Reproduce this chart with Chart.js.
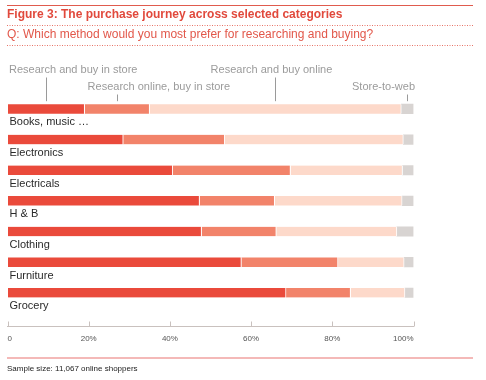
<!DOCTYPE html>
<html>
<head>
<meta charset="utf-8">
<script src="https://cdn.jsdelivr.net/npm/chart.js@4/dist/chart.umd.min.js"></script>
<style>
html,body{margin:0;padding:0;background:#fff;}
canvas{display:block;}
</style>
</head>
<body>
<canvas id="c" width="486" height="380"></canvas>
<script>
// ---- data ----
const categories = ['Books, music …', 'Electronics', 'Electricals', 'H & B', 'Clothing', 'Furniture', 'Grocery'];
const seriesNames = ['Research and buy in store', 'Research online, buy in store', 'Research and buy online', 'Store-to-web'];
const researchBuyStore = [19, 28.5, 40.7, 47.3, 47.8, 57.6, 68.6];
const researchOnlineBuyStore = [16, 25, 29, 18.5, 18.4, 23.8, 15.9];
const researchBuyOnline = [62, 44, 27.6, 31.4, 29.7, 16.3, 13.4];
const storeToWeb = [3, 2.5, 2.7, 2.8, 4.1, 2.3, 2.1];
const xTicks = [0, 20, 40, 60, 80, 100];
const titleText = 'Figure 3: The purchase journey across selected categories';
const questionText = 'Q: Which method would you most prefer for researching and buying?';
const noteText = 'Sample size: 11,067 online shoppers';

const colors = ['#EA4A3B', '#F2836A', '#FDD9CA', '#D8D4D2'];
const seriesValues = [researchBuyStore, researchOnlineBuyStore, researchBuyOnline, storeToWeb];

const datasets = seriesValues.map((vals, s) => ({
  label: seriesNames[s],
  data: vals.map((v, i) => ({x: v, y: i})),
  backgroundColor: colors[s],
  borderColor: '#ffffff',
  borderWidth: {left: 0, right: s < 3 ? 1 : 0, top: 0, bottom: 0},
  borderSkipped: false,
  barThickness: 9.5
}));

const FONT = '"Liberation Sans", Arial, Helvetica, sans-serif';

const decor = {
  id: 'decor',
  afterDraw(chart) {
    const ctx = chart.ctx;
    const xs = chart.scales.x, ys = chart.scales.y;
    ctx.save();
    // top rule
    ctx.strokeStyle = '#E05B4E';
    ctx.lineWidth = 1.2;
    ctx.beginPath(); ctx.moveTo(7, 5.5); ctx.lineTo(473, 5.5); ctx.stroke();
    // title
    ctx.fillStyle = '#E1493C';
    ctx.textBaseline = 'middle';
    ctx.textAlign = 'left';
    ctx.font = 'bold 12px ' + FONT;
    ctx.fillText(titleText, 7, 15);
    // dotted rules
    ctx.strokeStyle = '#E77468';
    ctx.lineWidth = 1;
    ctx.setLineDash([1, 1.5]);
    [25.5, 45.5].forEach(y => { ctx.beginPath(); ctx.moveTo(7, y); ctx.lineTo(473, y); ctx.stroke(); });
    ctx.setLineDash([]);
    // question
    ctx.font = '12px ' + FONT;
    ctx.fillStyle = '#E2574A';
    ctx.fillText(questionText, 7, 35);

    // legend annotations with leaders on first bar
    const mids = chart.data.datasets.map((d, s) => {
      const el = chart.getDatasetMeta(s).data[0];
      return (el.x + el.base) / 2;
    });
    const barTop = ys.getPixelForValue(0) - 4.75;
    ctx.strokeStyle = '#9a9a9a';
    ctx.lineWidth = 1;
    const leaderTop = [77.5, 94.5, 77.5, 94.5];
    mids.forEach((mx, s) => {
      const x = Math.round(mx) + 0.5;
      ctx.beginPath(); ctx.moveTo(x, leaderTop[s]); ctx.lineTo(x, barTop - 3); ctx.stroke();
    });
    ctx.fillStyle = '#9b9b9b';
    ctx.font = '11px ' + FONT;
    ctx.textAlign = 'left';
    ctx.fillText(seriesNames[0], chart.chartArea.left + 1.5, 69.5);
    ctx.fillText(seriesNames[1], mids[1] - 29.5, 86.5);
    ctx.textAlign = 'center';
    ctx.fillText(seriesNames[2], mids[2] - 4, 69.5);
    ctx.textAlign = 'right';
    ctx.fillText(seriesNames[3], chart.chartArea.right + 1.5, 86.5);

    // category labels below bars
    ctx.fillStyle = '#2a2a2a';
    ctx.font = '11px ' + FONT;
    ctx.textAlign = 'left';
    categories.forEach((c, i) => {
      ctx.fillText(c, chart.chartArea.left + 2, ys.getPixelForValue(i) + 13.5);
    });

    // upward tick marks on x axis
    ctx.strokeStyle = '#c9c1be';
    ctx.lineWidth = 1;
    const yb = chart.chartArea.bottom;
    xs.ticks.forEach(t => {
      const x = Math.round(xs.getPixelForValue(t.value)) + 0.5;
      ctx.beginPath(); ctx.moveTo(x, yb); ctx.lineTo(x, yb - 5); ctx.stroke();
    });

    // bottom rule and note
    ctx.strokeStyle = '#F1A2A0';
    ctx.lineWidth = 1.5;
    ctx.beginPath(); ctx.moveTo(7, 358); ctx.lineTo(473, 358); ctx.stroke();
    ctx.fillStyle = '#222';
    ctx.font = '8px ' + FONT;
    ctx.textAlign = 'left';
    ctx.fillText(noteText, 7, 368.5);
    ctx.restore();
  }
};

new Chart(document.getElementById('c'), {
  type: 'bar',
  data: {datasets},
  options: {
    indexAxis: 'y',
    responsive: false,
    animation: false,
    events: [],
    layout: {padding: {left: 7, right: 72.5, top: 93.6, bottom: 28.9}},
    plugins: {legend: {display: false}, tooltip: {enabled: false}},
    scales: {
      x: {
        type: 'linear',
        stacked: true,
        min: 0, max: 100,
        afterBuildTicks: (s) => { s.ticks = xTicks.map(v => ({value: v})); },
        grid: {display: true, drawOnChartArea: false, drawTicks: false},
        border: {display: true, color: '#c9c1be', width: 1},
        ticks: {
          padding: 7.5,
          align: 'inner',
          maxRotation: 0,
          color: '#555',
          font: {family: FONT, size: 8},
          callback: (v) => v === 0 ? '0' : v + '%'
        }
      },
      y: {
        type: 'linear',
        stacked: true,
        reverse: true,
        offset: false,
        min: -0.5, max: 7.1,
        display: false
      }
    }
  },
  plugins: [decor]
});
</script>
</body>
</html>
